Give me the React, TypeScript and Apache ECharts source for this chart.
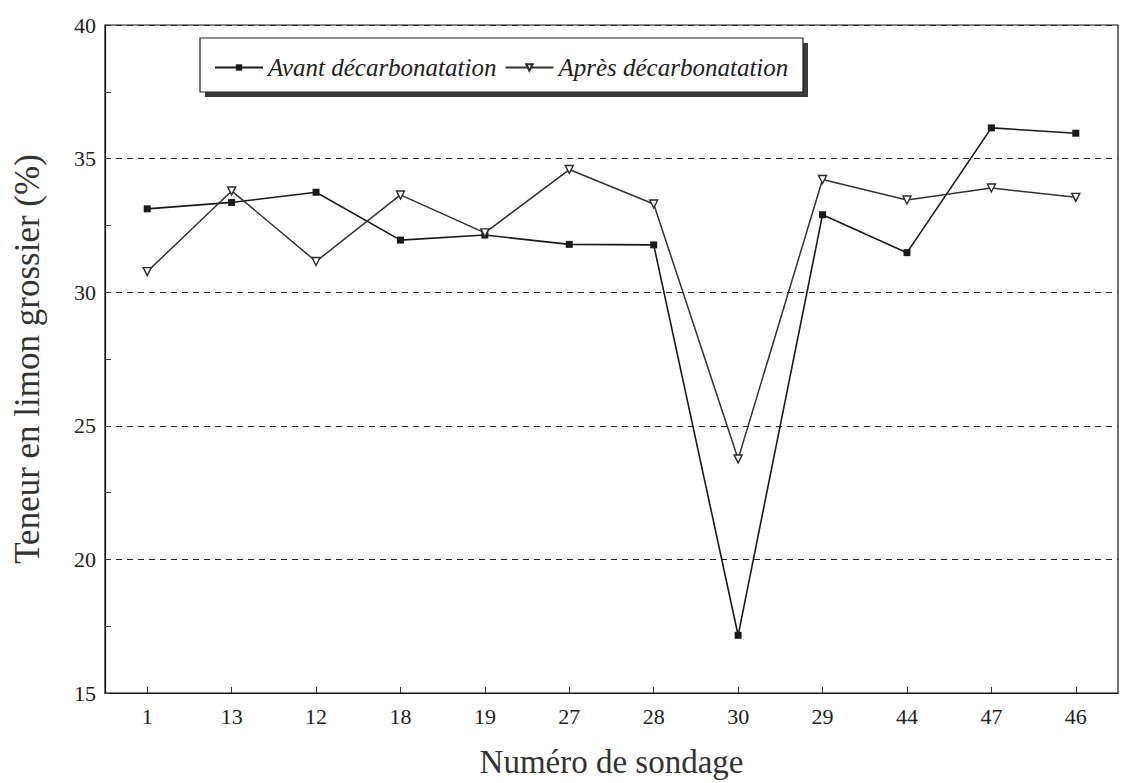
import React, { useEffect, useRef } from "react";
import * as echarts from "echarts";

const categories = ["1", "13", "12", "18", "19", "27", "28", "30", "29", "44", "47", "46"];
const avant = [33.12, 33.36, 33.74, 31.95, 32.14, 31.79, 31.77, 17.16, 32.9, 31.48, 36.15, 35.95];
const apres = [30.77, 33.79, 31.15, 33.64, 32.22, 34.59, 33.3, 23.76, 34.22, 33.45, 33.9, 33.55];
const seriesNames = ["Avant décarbonatation", "Après décarbonatation"];
const yTitle = "Teneur en limon grossier (%)";
const xTitle = "Numéro de sondage";

const FONT = "'Liberation Serif', 'Times New Roman', serif";

export default function App() {
  const ref = useRef<HTMLDivElement>(null);
  useEffect(() => {
    if (!ref.current) return;
    const chart = echarts.init(ref.current, undefined, { renderer: "svg" });
    chart.setOption({
      animation: false,
      backgroundColor: "#fff",
      textStyle: { fontFamily: FONT },
      grid: {
        left: 105,
        right: 5,
        top: 25,
        bottom: 86,
        show: true,
        borderColor: "#111",
        borderWidth: 1.2,
        backgroundColor: "transparent",
      },
      graphic: [
        { type: "rect", z: 90, shape: { x: 205, y: 43, width: 603, height: 54 }, style: { fill: "#3a3a3a" } },
        { type: "rect", z: 91, shape: { x: 200, y: 38, width: 603, height: 54 }, style: { fill: "#fff", stroke: "#222", lineWidth: 1.2 } },
      ],
      legend: {
        z: 100,
        left: 209,
        top: 50,
        itemWidth: 48,
        itemHeight: 8,
        itemGap: 8,
        data: seriesNames,
        textStyle: { fontFamily: FONT, fontStyle: "italic", fontSize: 25, color: "#222", padding: [0, 0, 0, 0] },
      },
      xAxis: {
        type: "category",
        data: categories,
        boundaryGap: true,
        name: xTitle,
        nameLocation: "middle",
        nameGap: 52,
        nameTextStyle: { fontFamily: FONT, fontSize: 33, color: "#333" },
        axisLine: { show: true, lineStyle: { color: "#111", width: 1.2 } },
        axisTick: { show: true, inside: true, alignWithLabel: true, length: 6, lineStyle: { color: "#333" } },
        axisLabel: { fontFamily: FONT, fontSize: 22, color: "#222", margin: 12 },
        splitLine: { show: false },
      },
      yAxis: {
        type: "value",
        min: 15,
        max: 40,
        interval: 5,
        name: yTitle,
        nameLocation: "middle",
        nameGap: 60,
        nameTextStyle: { fontFamily: FONT, fontSize: 35, color: "#333" },
        axisLine: { show: true, lineStyle: { color: "#111", width: 1.2 } },
        axisTick: { show: true, inside: true, length: 5, lineStyle: { color: "#333" } },
        minorTick: { show: true, splitNumber: 2, length: 6, lineStyle: { color: "#333" } },
        axisLabel: { fontFamily: FONT, fontSize: 22, color: "#222", margin: 9 },
        splitLine: { show: true, lineStyle: { color: "#222", type: [6, 5], width: 1.1 } },
      },
      series: [
        {
          name: seriesNames[0],
          type: "line",
          data: avant,
          symbol: "rect",
          symbolSize: 7,
          itemStyle: { color: "#1a1a1a" },
          lineStyle: { color: "#1a1a1a", width: 1.6 },
          z: 3,
        },
        {
          name: seriesNames[1],
          type: "line",
          data: apres,
          symbol: "triangle",
          symbolRotate: 180,
          symbolSize: 8,
          itemStyle: { color: "#fff", borderColor: "#2a2a2a", borderWidth: 1.4 },
          lineStyle: { color: "#333", width: 1.5 },
          z: 4,
        },
      ],
    });
    return () => chart.dispose();
  }, []);
  return (
    <div
      ref={ref}
      style={{ position: "fixed", left: 0, top: 0, width: 1123, height: 783, background: "#fff" }}
    />
  );
}
